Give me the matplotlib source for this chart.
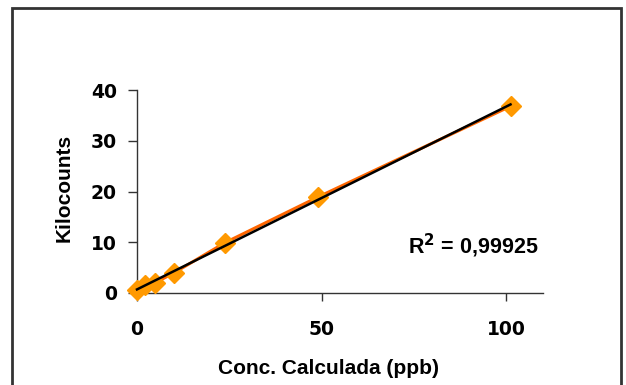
import numpy as np
import matplotlib
matplotlib.use("Agg")
from matplotlib import pyplot as plt
from matplotlib.patches import Rectangle

# calibration points
conc = [0.0, 2.2, 4.9, 10.1, 23.8, 49.0, 101.2]
kcounts = [0.6, 1.6, 2.0, 4.0, 9.9, 18.9, 36.8]
r2_text = "R$^\\mathbf{2}$ = 0,99925"
xticks = [0, 50, 100]
yticks = [0, 10, 20, 30, 40]

W, H = 626, 385
fig = plt.figure(figsize=(W/100, H/100), dpi=100)
fig.patch.set_facecolor("white")

# outer chart frame (bottom edge runs off the image)
fig.patches.append(Rectangle((12/W, -0.05), (621-12)/W, (H-8)/H + 0.05,
                             transform=fig.transFigure, fill=False,
                             edgecolor="#333333", linewidth=2))

ax = fig.add_axes([137/W, (H-293)/H, (543-137)/W, (293-90)/H])

ax.plot(conc, kcounts, color="#FF6600", linewidth=2.2, zorder=2)
ax.plot(conc, kcounts, linestyle="none", marker="D", markersize=10.5,
        color="#FF9900", markeredgecolor="#FF9900", zorder=3, clip_on=False)

# linear trendline
m, b = np.polyfit(conc, kcounts, 1)
xs = np.array([conc[0], conc[-1]])
ax.plot(xs, m*xs + b, color="black", linewidth=1.8, zorder=4, clip_on=False)

ax.set_xlim(0, 110)
ax.set_ylim(0, 40)
ax.set_xticks(xticks)
ax.set_yticks(yticks)

for s in ["top", "right"]:
    ax.spines[s].set_visible(False)
for s in ["left", "bottom"]:
    ax.spines[s].set_color("#333333")
    ax.spines[s].set_linewidth(1)

ax.tick_params(axis="y", length=6.5, width=1, color="#333333", pad=8)
ax.tick_params(axis="x", length=5.5, width=1, color="#333333", pad=14)
for lab in ax.get_xticklabels() + ax.get_yticklabels():
    lab.set_fontfamily("DejaVu Sans")
    lab.set_fontweight("bold")
    lab.set_fontsize(13.5)

fig.text(329/W, (H-368)/H, "Conc. Calculada (ppb)", ha="center", va="center",
         fontfamily="Liberation Sans", fontweight="bold", fontsize=15)
fig.text(64/W, (H-188)/H, "Kilocounts", ha="center", va="center",
         rotation=90, fontfamily="Liberation Sans", fontweight="bold",
         fontsize=15)

fig.text(538/W, (H-246)/H, r2_text, ha="right", va="center",
         fontfamily="Liberation Sans", fontweight="bold", fontsize=15.5)

fig.savefig("out.png", dpi=100)
